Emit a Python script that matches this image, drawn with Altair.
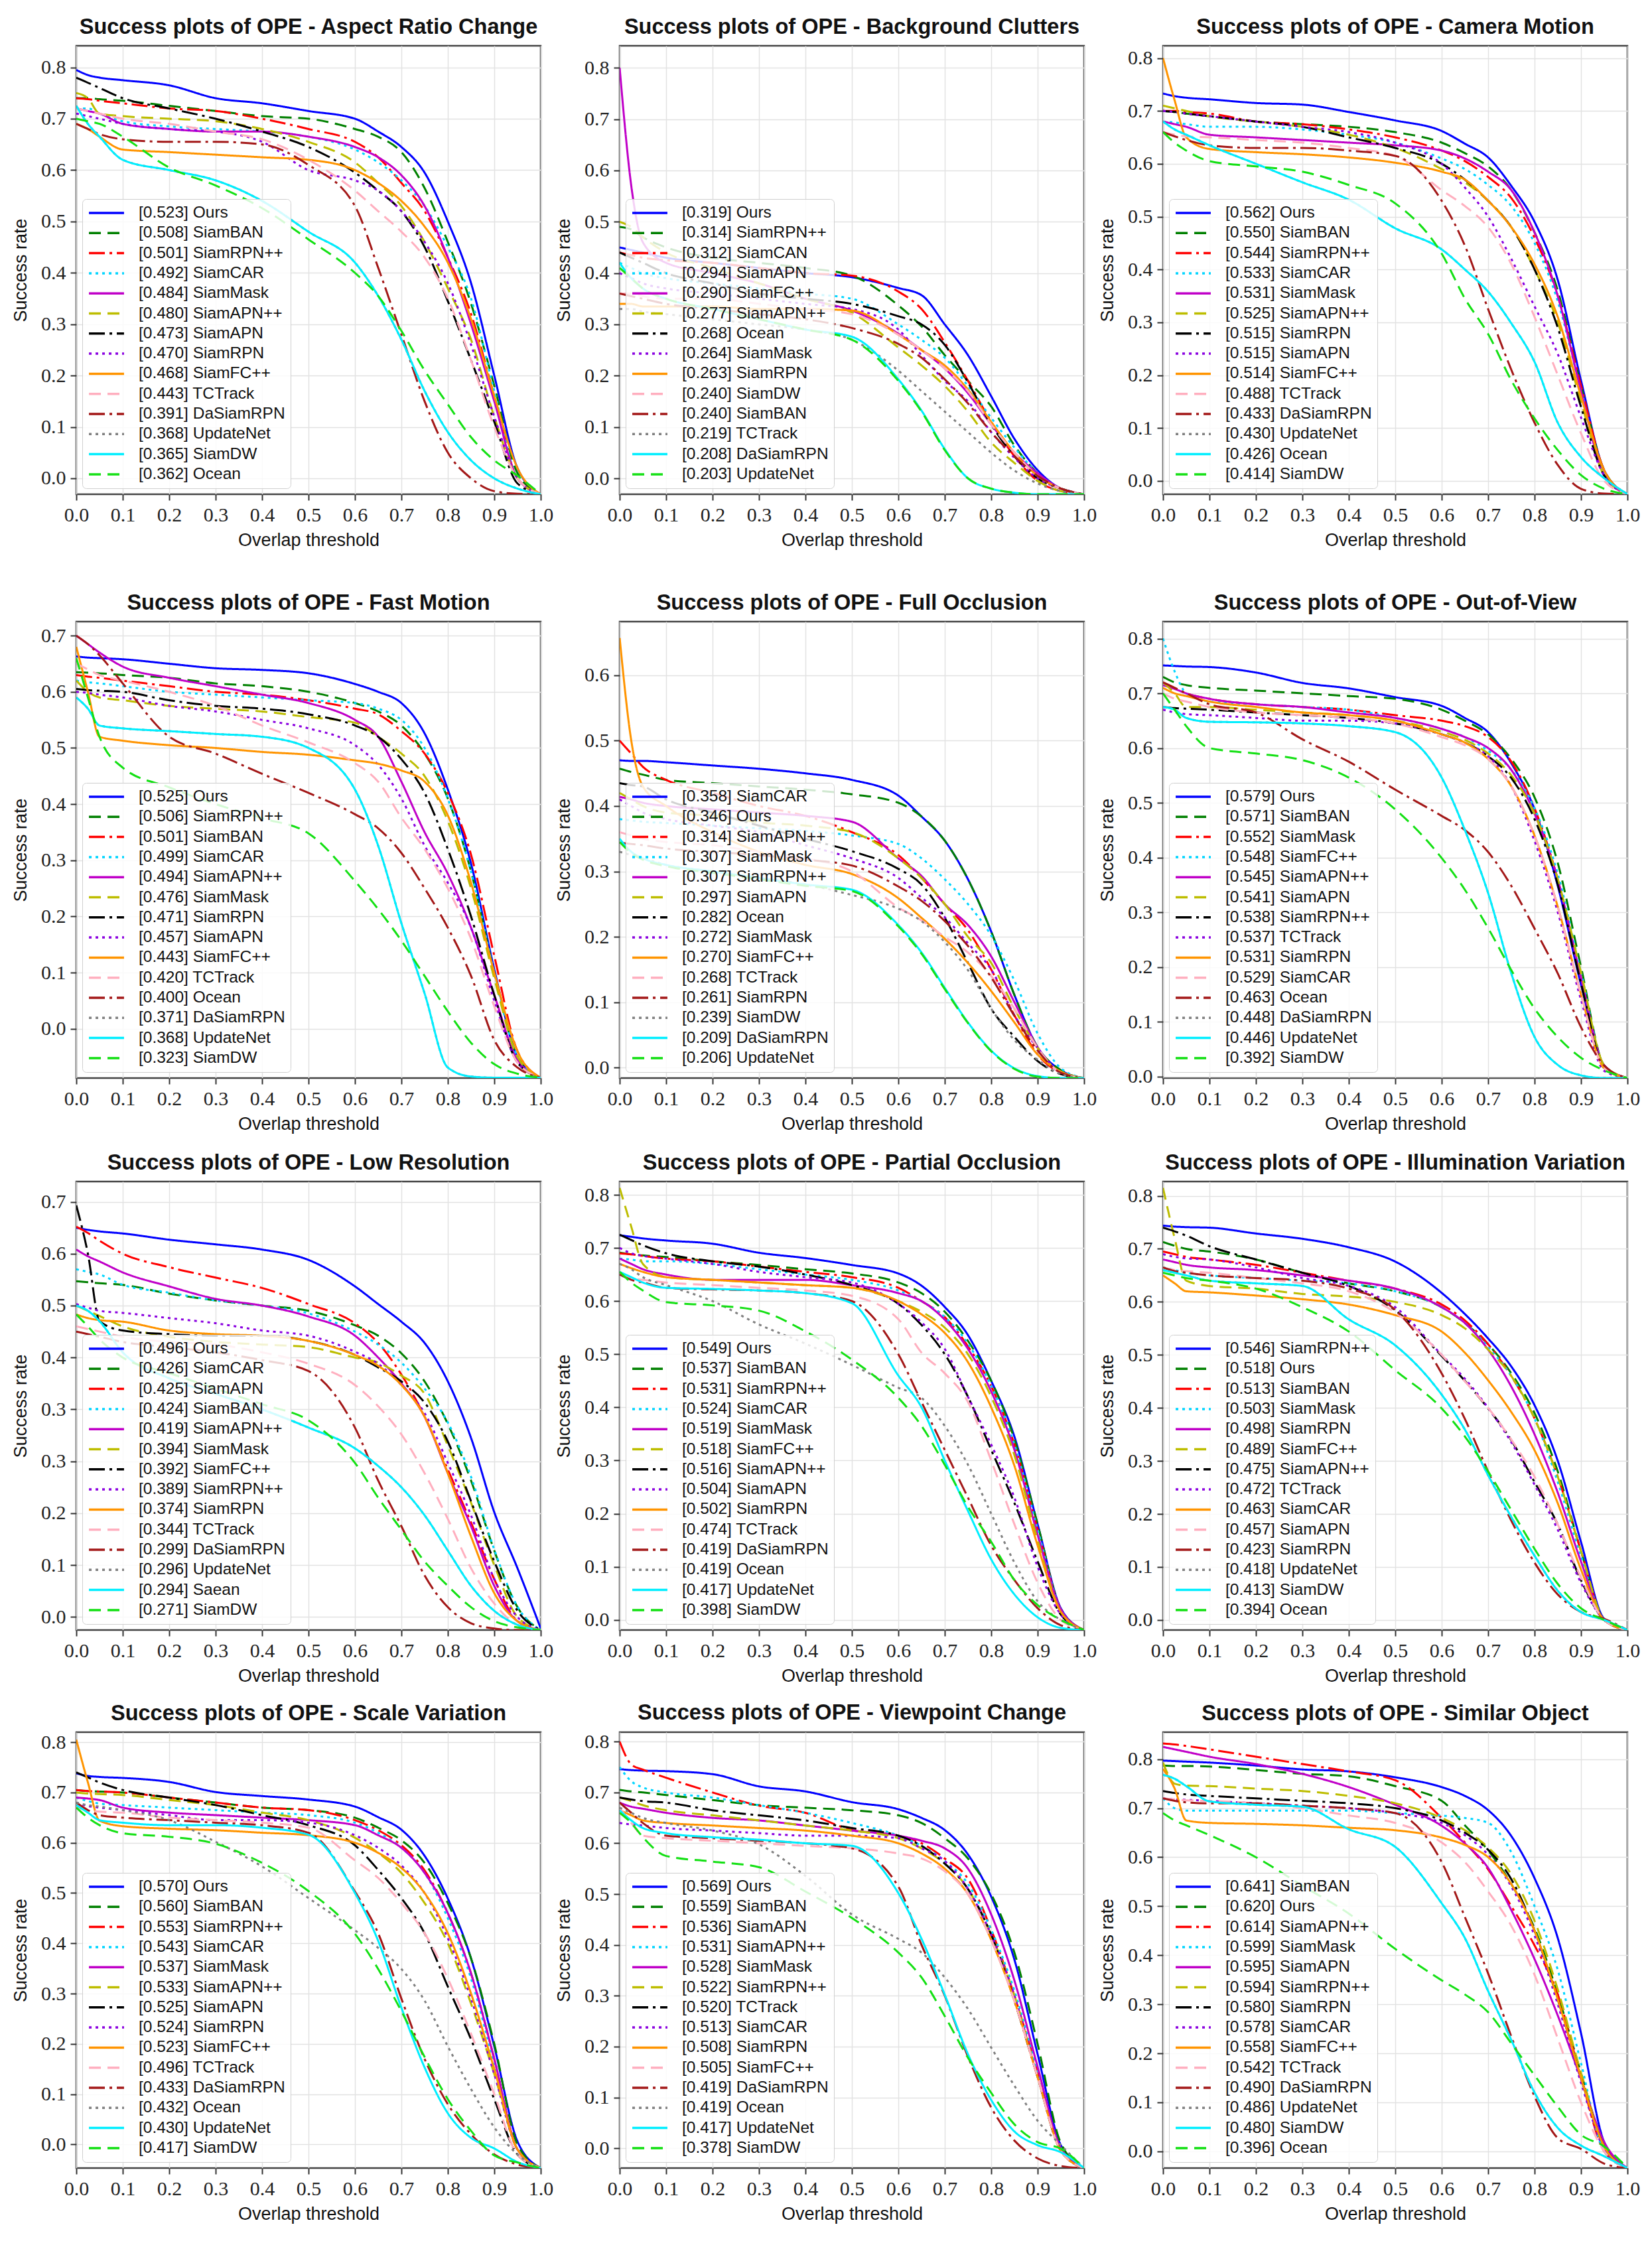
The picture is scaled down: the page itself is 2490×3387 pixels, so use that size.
import altair as alt
import pandas as pd

T = [0, .025, .05, .1, .2, .3, .4, .5, .6, .65, .7, .75, .8, .85, .9, .95, 1.0]

# ---------------- Aspect Ratio Change ----------------
ARC_NAMES = ["Ours", "SiamBAN", "SiamRPN++", "SiamCAR", "SiamMask", "SiamAPN++", "SiamAPN", "SiamRPN",
             "SiamFC++", "TCTrack", "DaSiamRPN", "UpdateNet", "SiamDW", "Ocean"]
ARC_AUC = [.523, .508, .501, .492, .484, .480, .473, .470, .468, .443, .391, .368, .365, .362]
ARC_Y = [
    [.795, .785, .780, .775, .765, .740, .730, .715, .700, .675, .645, .595, .500, .380, .200, .020, -.031],
    [.740, .740, .738, .735, .725, .715, .705, .700, .680, .665, .635, .565, .460, .340, .180, .010, -.031],
    [.740, .738, .735, .730, .720, .715, .700, .680, .655, .625, .575, .520, .430, .320, .160, .000, -.031],
    [.720, .720, .710, .695, .685, .680, .675, .665, .640, .615, .580, .530, .450, .350, .170, .000, -.031],
    [.720, .715, .710, .690, .680, .675, .675, .665, .645, .625, .590, .530, .430, .300, .150, .000, -.031],
    [.750, .740, .710, .705, .700, .695, .680, .655, .615, .575, .530, .460, .370, .270, .120, .000, -.031],
    [.780, .770, .760, .740, .720, .700, .675, .645, .595, .560, .520, .450, .345, .230, .110, -.010, -.031],
    [.710, .705, .700, .690, .680, .675, .655, .600, .580, .560, .520, .460, .380, .260, .120, .000, -.031],
    [.690, .680, .665, .640, .635, .630, .625, .620, .600, .575, .540, .490, .420, .310, .160, .020, -.031],
    [.720, .715, .710, .700, .690, .675, .660, .620, .560, .520, .480, .430, .350, .230, .100, .000, -.031],
    [.690, .680, .670, .660, .655, .655, .650, .610, .530, .410, .280, .150, .050, .000, -.025, -.030, -.031],
    [.725, .690, .665, .620, .600, .580, .540, .480, .420, .355, .270, .170, .090, .035, .000, -.020, -.031],
    [.725, .690, .665, .620, .600, .580, .540, .480, .420, .355, .270, .170, .090, .035, .000, -.020, -.031],
    [.700, .695, .690, .665, .605, .570, .526, .465, .400, .355, .287, .210, .144, .080, .035, .005, -.031],
]

# ---------------- Background Clutters ----------------
BC_NAMES = ["Ours", "SiamRPN++", "SiamCAN", "SiamAPN", "SiamFC++", "SiamAPN++", "Ocean", "SiamMask",
            "SiamRPN", "SiamDW", "SiamBAN", "TCTrack", "DaSiamRPN", "UpdateNet"]
BC_AUC = [.319, .314, .312, .294, .290, .277, .268, .264, .263, .240, .240, .219, .208, .203]
BC_Y = [
    [.450, .445, .440, .430, .420, .410, .400, .392, .371, .357, .300, .240, .160, .077, .016, -.020, -.031],
    [.490, .485, .470, .450, .430, .420, .410, .395, .337, .296, .240, .190, .140, .064, .010, -.020, -.031],
    [.440, .435, .430, .425, .420, .410, .400, .395, .364, .330, .265, .190, .110, .043, -.005, -.025, -.031],
    [.420, .410, .400, .390, .380, .370, .360, .350, .300, .270, .235, .180, .118, .060, .010, -.020, -.031],
    [.800, .570, .460, .420, .400, .380, .350, .327, .282, .250, .214, .166, .105, .050, .010, -.020, -.031],
    [.500, .490, .470, .440, .410, .380, .350, .323, .255, .220, .180, .130, .070, .030, -.005, -.025, -.031],
    [.440, .430, .420, .400, .380, .360, .350, .340, .316, .300, .260, .187, .105, .043, .000, -.020, -.031],
    [.400, .390, .380, .370, .360, .350, .340, .330, .290, .240, .190, .150, .090, .040, .000, -.020, -.031],
    [.340, .340, .335, .335, .335, .330, .330, .327, .280, .250, .220, .173, .110, .050, .005, -.020, -.031],
    [.360, .360, .355, .350, .350, .340, .330, .320, .280, .250, .214, .170, .105, .050, .005, -.020, -.031],
    [.360, .355, .350, .340, .330, .320, .310, .293, .262, .235, .193, .146, .090, .043, .005, -.020, -.031],
    [.330, .330, .325, .320, .310, .300, .290, .270, .210, .170, .130, .090, .050, .015, -.010, -.025, -.031],
    [.420, .390, .370, .350, .330, .310, .290, .276, .193, .132, .057, .000, -.020, -.028, -.031, -.031, -.031],
    [.410, .390, .370, .350, .330, .310, .290, .270, .190, .130, .055, .000, -.020, -.028, -.031, -.031, -.031],
]

# ---------------- Camera Motion ----------------
CM_NAMES = ["Ours", "SiamBAN", "SiamRPN++", "SiamCAR", "SiamMask", "SiamAPN++", "SiamRPN", "SiamAPN",
            "SiamFC++", "TCTrack", "DaSiamRPN", "UpdateNet", "Ocean", "SiamDW"]
CM_AUC = [.562, .550, .544, .533, .531, .525, .515, .515, .514, .488, .433, .430, .426, .414]
CM_Y = [
    [.733, .728, .725, .722, .715, .712, .698, .682, .662, .638, .612, .558, .490, .380, .190, .020, -.025],
    [.700, .698, .695, .690, .680, .675, .670, .660, .640, .620, .595, .550, .470, .360, .180, .020, -.025],
    [.700, .700, .698, .695, .680, .675, .665, .650, .625, .605, .575, .535, .460, .350, .180, .020, -.025],
    [.680, .678, .675, .670, .670, .665, .655, .640, .610, .590, .560, .520, .450, .340, .170, .010, -.025],
    [.680, .675, .670, .655, .650, .645, .640, .635, .625, .610, .585, .550, .470, .350, .170, .010, -.025],
    [.710, .705, .700, .690, .680, .670, .655, .630, .590, .565, .530, .480, .400, .300, .150, .010, -.025],
    [.700, .698, .695, .690, .680, .670, .650, .630, .600, .570, .530, .480, .400, .290, .140, .010, -.025],
    [.700, .698, .695, .690, .680, .670, .660, .640, .600, .555, .500, .420, .330, .240, .120, .010, -.025],
    [.800, .720, .650, .628, .622, .618, .612, .602, .585, .570, .530, .480, .410, .310, .160, .020, -.025],
    [.660, .655, .652, .650, .645, .640, .630, .615, .550, .520, .480, .410, .310, .200, .090, .000, -.025],
    [.660, .652, .645, .635, .630, .630, .625, .615, .530, .445, .325, .210, .110, .030, -.015, -.024, -.025],
    [.680, .665, .655, .635, .600, .565, .532, .478, .438, .400, .358, .298, .225, .110, .045, .005, -.025],
    [.680, .665, .655, .635, .600, .565, .532, .478, .438, .400, .358, .298, .225, .110, .045, .005, -.025],
    [.660, .640, .625, .605, .595, .585, .560, .525, .430, .345, .278, .190, .118, .058, .011, -.015, -.025],
]

# ---------------- Fast Motion ----------------
FM_NAMES = ["Ours", "SiamRPN++", "SiamBAN", "SiamCAR", "SiamAPN++", "SiamMask", "SiamRPN", "SiamAPN",
            "SiamFC++", "TCTrack", "Ocean", "DaSiamRPN", "UpdateNet", "SiamDW"]
FM_AUC = [.525, .506, .501, .499, .494, .476, .471, .457, .443, .420, .400, .371, .368, .323]
FM_Y = [
    [.663, .661, .660, .658, .650, .642, .639, .633, .614, .600, .580, .526, .426, .294, .106, -.050, -.087],
    [.635, .634, .633, .630, .625, .615, .610, .600, .580, .565, .540, .490, .410, .280, .100, -.050, -.087],
    [.630, .627, .625, .620, .610, .600, .595, .585, .570, .560, .530, .490, .420, .310, .130, -.040, -.087],
    [.620, .617, .615, .610, .600, .595, .590, .585, .580, .570, .550, .500, .410, .280, .100, -.050, -.087],
    [.700, .685, .670, .645, .625, .610, .595, .580, .550, .520, .440, .350, .276, .180, .060, -.056, -.087],
    [.620, .600, .590, .585, .575, .570, .565, .555, .545, .520, .490, .450, .370, .250, .090, -.050, -.087],
    [.605, .603, .602, .600, .585, .575, .570, .560, .540, .520, .480, .420, .320, .200, .060, -.060, -.087],
    [.600, .598, .595, .590, .575, .565, .550, .535, .505, .470, .410, .326, .260, .180, .050, -.060, -.087],
    [.680, .600, .520, .513, .505, .500, .493, .488, .478, .472, .460, .440, .380, .260, .100, -.040, -.087],
    [.650, .640, .630, .620, .600, .575, .540, .510, .473, .440, .376, .320, .250, .160, .040, -.060, -.087],
    [.700, .685, .665, .615, .520, .490, .454, .420, .382, .357, .313, .250, .180, .094, -.020, -.069, -.087],
    [.590, .570, .540, .535, .530, .525, .520, .500, .426, .326, .188, .063, -.069, -.085, -.087, -.087, -.087],
    [.590, .570, .540, .535, .530, .525, .520, .500, .426, .326, .188, .063, -.069, -.085, -.087, -.087, -.087],
    [.660, .590, .520, .465, .430, .400, .375, .348, .263, .213, .157, .094, .031, -.025, -.063, -.080, -.087],
]

# ---------------- Full Occlusion ----------------
FO_NAMES = ["SiamCAR", "Ours", "SiamAPN++", "SiamMask", "SiamRPN++", "SiamAPN", "Ocean", "SiamMask",
            "SiamFC++", "TCTrack", "SiamRPN", "SiamDW", "DaSiamRPN", "UpdateNet"]
FO_AUC = [.358, .346, .314, .307, .307, .297, .282, .272, .270, .268, .261, .239, .209, .206]
FO_Y = [
    [.470, .469, .469, .467, .462, .457, .450, .440, .416, .384, .347, .288, .208, .111, .031, -.004, -.016],
    [.457, .452, .448, .440, .435, .430, .425, .418, .405, .384, .347, .288, .208, .111, .031, -.004, -.016],
    [.500, .480, .460, .440, .420, .400, .385, .360, .325, .290, .250, .210, .150, .080, .020, -.008, -.016],
    [.380, .378, .376, .374, .370, .366, .362, .355, .342, .320, .288, .250, .202, .133, .052, -.001, -.016],
    [.414, .410, .405, .400, .395, .390, .385, .376, .320, .293, .250, .218, .170, .100, .031, -.008, -.016],
    [.420, .410, .400, .390, .385, .375, .370, .360, .320, .290, .250, .200, .160, .090, .030, -.008, -.016],
    [.435, .432, .430, .410, .390, .370, .350, .331, .304, .280, .229, .160, .090, .047, .010, -.010, -.016],
    [.410, .400, .390, .380, .370, .360, .340, .320, .290, .260, .230, .190, .150, .080, .030, -.008, -.016],
    [.657, .500, .430, .400, .360, .330, .310, .296, .259, .229, .197, .160, .117, .069, .020, -.006, -.016],
    [.360, .355, .350, .345, .340, .330, .320, .300, .245, .225, .200, .176, .140, .090, .030, -.008, -.016],
    [.344, .342, .340, .335, .330, .325, .318, .309, .277, .255, .224, .186, .138, .079, .026, -.008, -.016],
    [.330, .325, .320, .310, .300, .290, .280, .264, .243, .224, .192, .149, .090, .042, .012, -.010, -.016],
    [.350, .330, .320, .310, .300, .290, .280, .272, .218, .176, .122, .069, .026, -.001, -.013, -.016, -.016],
    [.345, .328, .318, .308, .298, .288, .278, .270, .216, .174, .120, .068, .025, -.002, -.014, -.016, -.016],
]

# ---------------- Out-of-View ----------------
OV_NAMES = ["Ours", "SiamBAN", "SiamMask", "SiamFC++", "SiamAPN++", "SiamAPN", "SiamRPN++", "TCTrack",
            "SiamRPN", "SiamCAR", "Ocean", "DaSiamRPN", "UpdateNet", "SiamDW"]
OV_AUC = [.579, .571, .552, .548, .545, .541, .538, .537, .531, .529, .463, .448, .446, .392]
OV_Y = [
    [.751, .750, .749, .748, .738, .719, .709, .693, .677, .655, .629, .572, .488, .348, .168, .020, -.003],
    [.730, .720, .715, .710, .705, .700, .695, .690, .670, .650, .625, .580, .510, .390, .200, .020, -.003],
    [.720, .710, .700, .690, .680, .675, .670, .660, .650, .640, .620, .575, .490, .360, .180, .020, -.003],
    [.800, .740, .700, .685, .680, .675, .670, .655, .635, .620, .595, .560, .490, .370, .190, .020, -.003],
    [.715, .708, .700, .690, .680, .675, .665, .655, .635, .620, .600, .560, .480, .360, .180, .020, -.003],
    [.720, .700, .675, .675, .670, .665, .660, .650, .630, .615, .590, .550, .480, .360, .190, .020, -.003],
    [.675, .673, .672, .670, .665, .660, .655, .645, .625, .610, .585, .545, .470, .350, .170, .015, -.003],
    [.670, .665, .662, .660, .655, .650, .650, .645, .625, .610, .585, .530, .430, .300, .140, .010, -.003],
    [.710, .700, .695, .685, .675, .665, .660, .650, .625, .610, .580, .530, .440, .310, .150, .015, -.003],
    [.700, .690, .685, .675, .665, .660, .655, .645, .620, .605, .580, .530, .440, .310, .150, .015, -.003],
    [.720, .710, .700, .680, .665, .616, .575, .524, .476, .450, .410, .348, .270, .188, .090, .020, -.003],
    [.675, .670, .655, .648, .647, .645, .640, .629, .546, .450, .335, .188, .072, .021, .002, -.003, -.003],
    [.675, .670, .655, .648, .647, .645, .640, .629, .546, .450, .335, .188, .072, .021, .002, -.003, -.003],
    [.700, .670, .640, .600, .590, .578, .546, .488, .399, .341, .271, .194, .124, .072, .034, .011, -.003],
]

# ---------------- Low Resolution (tick labels as printed) ----------------
LR_NAMES = ["Ours", "SiamCAR", "SiamAPN", "SiamBAN", "SiamAPN++", "SiamMask", "SiamFC++", "SiamRPN++",
            "SiamRPN", "TCTrack", "DaSiamRPN", "UpdateNet", "Saean", "SiamDW"]
LR_AUC = [.496, .426, .425, .424, .419, .394, .392, .389, .374, .344, .299, .296, .294, .271]
LR_Y = [
    [.750, .746, .743, .739, .727, .718, .708, .688, .637, .603, .569, .528, .454, .345, .202, .094, -.022],
    [.647, .645, .643, .640, .623, .610, .600, .590, .562, .542, .508, .454, .372, .263, .128, .019, -.025],
    [.752, .740, .725, .700, .674, .654, .634, .603, .566, .528, .467, .386, .284, .182, .073, -.008, -.025],
    [.670, .665, .660, .640, .625, .610, .600, .585, .550, .525, .490, .440, .375, .270, .130, .020, -.025],
    [.708, .695, .685, .664, .637, .613, .600, .579, .542, .500, .450, .386, .277, .175, .060, -.008, -.025],
    [.600, .590, .580, .560, .540, .530, .525, .520, .500, .490, .465, .430, .330, .220, .100, .000, -.025],
    [.793, .700, .570, .552, .545, .542, .542, .532, .505, .481, .454, .413, .338, .223, .107, .012, -.025],
    [.603, .596, .590, .586, .576, .566, .552, .542, .511, .488, .447, .393, .297, .196, .073, .000, -.025],
    [.583, .576, .572, .569, .552, .545, .542, .532, .505, .484, .447, .386, .277, .155, .046, -.008, -.025],
    [.560, .555, .550, .540, .530, .525, .510, .488, .447, .406, .352, .277, .189, .094, .026, -.015, -.025],
    [.550, .545, .540, .530, .520, .510, .495, .474, .365, .263, .175, .080, .019, -.012, -.022, -.025, -.025],
    [.600, .590, .570, .510, .460, .430, .400, .365, .325, .291, .250, .196, .128, .060, .012, -.015, -.025],
    [.600, .590, .570, .510, .460, .430, .400, .365, .325, .291, .250, .196, .128, .060, .012, -.015, -.025],
    [.583, .560, .535, .500, .470, .440, .410, .379, .297, .230, .168, .107, .060, .019, -.008, -.020, -.025],
]
LR_TICK_LABELS = ["0.0", "0.1", "0.2", "0.3", "0.3", "0.4", "0.5", "0.6", "0.7"]

# ---------------- Partial Occlusion ----------------
PO_NAMES = ["Ours", "SiamBAN", "SiamRPN++", "SiamCAR", "SiamMask", "SiamFC++", "SiamAPN++", "SiamAPN",
            "SiamRPN", "TCTrack", "DaSiamRPN", "Ocean", "UpdateNet", "SiamDW"]
PO_AUC = [.549, .537, .531, .524, .519, .518, .516, .504, .502, .474, .419, .419, .417, .398]
PO_Y = [
    [.724, .721, .718, .714, .708, .691, .681, .668, .652, .629, .589, .536, .450, .345, .180, .022, -.019],
    [.691, .688, .686, .683, .675, .668, .660, .652, .635, .615, .580, .525, .450, .340, .180, .020, -.019],
    [.690, .688, .685, .680, .675, .665, .655, .645, .625, .600, .570, .515, .440, .330, .170, .020, -.019],
    [.680, .678, .675, .675, .670, .660, .650, .640, .620, .600, .570, .520, .440, .330, .170, .020, -.019],
    [.680, .670, .660, .650, .640, .640, .640, .630, .615, .600, .565, .510, .430, .320, .160, .020, -.019],
    [.813, .740, .670, .645, .640, .635, .630, .625, .600, .580, .550, .500, .420, .310, .150, .015, -.019],
    [.725, .715, .705, .690, .675, .665, .650, .630, .595, .555, .500, .420, .320, .220, .110, .010, -.019],
    [.700, .690, .685, .680, .670, .655, .645, .635, .595, .560, .510, .420, .330, .230, .100, .010, -.019],
    [.670, .662, .655, .645, .640, .635, .630, .625, .600, .575, .540, .485, .400, .290, .140, .015, -.019],
    [.650, .642, .640, .635, .630, .625, .620, .610, .566, .503, .464, .410, .300, .180, .070, .000, -.019],
    [.650, .640, .635, .625, .622, .620, .615, .600, .500, .410, .320, .230, .140, .075, .022, -.010, -.019],
    [.670, .660, .645, .630, .600, .556, .520, .480, .437, .418, .365, .292, .200, .108, .035, .000, -.019],
    [.655, .645, .635, .625, .623, .620, .615, .596, .460, .400, .300, .205, .114, .048, .005, -.015, -.019],
    [.655, .635, .620, .598, .592, .582, .543, .490, .418, .365, .292, .213, .147, .075, .028, .000, -.019],
]

# ---------------- Illumination Variation ----------------
IV_NAMES = ["SiamRPN++", "Ours", "SiamBAN", "SiamMask", "SiamRPN", "SiamFC++", "SiamAPN++", "TCTrack",
            "SiamCAR", "SiamAPN", "SiamRPN", "UpdateNet", "SiamDW", "Ocean"]
IV_AUC = [.546, .518, .513, .503, .498, .489, .475, .472, .463, .457, .423, .418, .413, .394]
IV_Y = [
    [.744, .742, .741, .740, .729, .719, .703, .676, .617, .577, .531, .478, .405, .300, .147, .002, -.019],
    [.713, .706, .700, .695, .680, .655, .635, .620, .590, .560, .520, .465, .390, .280, .130, .000, -.019],
    [.695, .690, .685, .680, .670, .655, .640, .625, .595, .565, .520, .460, .380, .270, .130, .000, -.019],
    [.665, .660, .655, .650, .645, .640, .635, .620, .590, .560, .515, .460, .380, .260, .120, .000, -.019],
    [.680, .675, .670, .665, .660, .650, .640, .625, .590, .560, .510, .440, .350, .240, .110, .000, -.019],
    [.815, .720, .640, .630, .625, .615, .610, .600, .575, .550, .510, .460, .380, .270, .130, .000, -.019],
    [.740, .733, .725, .705, .680, .655, .630, .584, .498, .451, .399, .339, .260, .180, .075, .000, -.019],
    [.690, .685, .682, .680, .665, .645, .630, .590, .500, .455, .400, .335, .255, .170, .070, .000, -.019],
    [.650, .635, .620, .618, .612, .605, .595, .575, .544, .504, .452, .392, .320, .220, .095, .000, -.019],
    [.665, .660, .658, .655, .645, .635, .620, .580, .500, .450, .400, .340, .270, .180, .080, .000, -.019],
    [.665, .658, .655, .650, .645, .640, .625, .585, .465, .379, .280, .187, .108, .048, .015, .002, -.019],
    [.660, .655, .650, .640, .635, .630, .567, .518, .425, .359, .273, .194, .121, .055, .015, .000, -.019],
    [.660, .655, .650, .640, .635, .630, .567, .518, .425, .359, .273, .194, .121, .055, .015, .000, -.019],
    [.655, .650, .645, .640, .625, .590, .544, .471, .399, .346, .280, .207, .134, .068, .022, .000, -.019],
]

# ---------------- Scale Variation ----------------
SV_NAMES = ["Ours", "SiamBAN", "SiamRPN++", "SiamCAR", "SiamMask", "SiamAPN++", "SiamAPN", "SiamRPN",
            "SiamFC++", "TCTrack", "DaSiamRPN", "Ocean", "UpdateNet", "SiamDW"]
SV_AUC = [.570, .560, .553, .543, .537, .533, .525, .524, .523, .496, .433, .432, .430, .417]
SV_Y = [
    [.738, .733, .731, .729, .721, .701, .693, .686, .672, .651, .626, .574, .489, .370, .195, .006, -.047],
    [.705, .703, .702, .700, .690, .680, .670, .665, .650, .630, .605, .560, .480, .370, .200, .000, -.047],
    [.705, .703, .702, .700, .690, .680, .670, .665, .645, .625, .595, .545, .460, .340, .170, -.010, -.047],
    [.690, .683, .678, .675, .670, .665, .660, .655, .640, .620, .590, .540, .450, .330, .160, -.010, -.047],
    [.690, .688, .685, .670, .660, .655, .650, .645, .635, .615, .590, .540, .460, .340, .170, -.010, -.047],
    [.700, .698, .697, .695, .685, .675, .660, .645, .610, .580, .540, .480, .400, .280, .140, -.010, -.047],
    [.740, .730, .720, .705, .690, .675, .655, .635, .595, .546, .490, .420, .314, .209, .090, -.020, -.047],
    [.680, .673, .670, .665, .655, .645, .645, .640, .615, .590, .555, .500, .410, .290, .140, -.010, -.047],
    [.805, .720, .644, .633, .628, .625, .620, .615, .600, .580, .550, .500, .420, .300, .150, -.010, -.047],
    [.670, .665, .662, .660, .650, .645, .640, .630, .565, .530, .480, .420, .330, .220, .100, -.020, -.047],
    [.680, .665, .655, .650, .645, .640, .635, .620, .503, .420, .290, .170, .080, .020, -.020, -.040, -.047],
    [.680, .675, .672, .665, .645, .602, .553, .490, .426, .391, .349, .286, .195, .110, .034, -.020, -.047],
    [.675, .660, .645, .640, .635, .635, .630, .616, .500, .405, .272, .153, .062, .013, -.008, -.035, -.047],
    [.670, .650, .635, .619, .612, .598, .560, .504, .419, .349, .265, .174, .090, .027, -.022, -.036, -.047],
]

# ---------------- Viewpoint Change ----------------
VC_NAMES = ["Ours", "SiamBAN", "SiamAPN", "SiamAPN++", "SiamMask", "SiamRPN++", "TCTrack", "SiamCAR",
            "SiamRPN", "SiamFC++", "DaSiamRPN", "Ocean", "UpdateNet", "SiamDW"]
VC_AUC = [.569, .559, .536, .531, .528, .522, .520, .513, .508, .505, .419, .419, .417, .378]
VC_Y = [
    [.746, .744, .743, .742, .736, .712, .702, .681, .667, .650, .626, .578, .495, .371, .185, .006, -.039],
    [.705, .702, .700, .695, .685, .675, .670, .665, .655, .640, .610, .570, .500, .385, .205, .010, -.039],
    [.800, .755, .745, .729, .700, .674, .660, .626, .615, .600, .570, .530, .430, .300, .150, .000, -.039],
    [.750, .722, .710, .700, .690, .675, .660, .640, .615, .595, .565, .520, .430, .310, .150, .000, -.039],
    [.680, .672, .668, .660, .650, .645, .635, .625, .615, .605, .590, .550, .460, .330, .160, .000, -.039],
    [.690, .683, .675, .665, .655, .645, .635, .625, .610, .590, .560, .510, .420, .300, .140, -.005, -.039],
    [.690, .686, .683, .680, .665, .655, .645, .630, .615, .595, .560, .510, .420, .290, .140, -.005, -.039],
    [.640, .637, .635, .630, .625, .620, .615, .615, .610, .590, .565, .510, .420, .300, .140, -.005, -.039],
    [.665, .655, .645, .640, .635, .630, .625, .615, .600, .580, .550, .500, .410, .290, .140, -.005, -.039],
    [.670, .640, .615, .610, .605, .600, .595, .590, .580, .570, .545, .500, .410, .290, .140, -.005, -.039],
    [.680, .660, .640, .615, .610, .605, .600, .590, .515, .400, .300, .180, .080, .015, -.020, -.035, -.039],
    [.670, .660, .650, .640, .625, .598, .536, .460, .412, .385, .336, .274, .198, .123, .054, .006, -.039],
    [.665, .645, .630, .620, .612, .607, .600, .595, .502, .412, .302, .185, .095, .033, .006, -.008, -.039],
    [.660, .640, .612, .575, .564, .553, .505, .453, .385, .336, .260, .178, .109, .047, .012, -.001, -.039],
]

# ---------------- Similar Object ----------------
SO_NAMES = ["SiamBAN", "Ours", "SiamAPN++", "SiamMask", "SiamAPN", "SiamRPN++", "SiamRPN", "SiamCAR",
            "SiamFC++", "TCTrack", "DaSiamRPN", "UpdateNet", "SiamDW", "Ocean"]
SO_AUC = [.641, .620, .614, .599, .595, .594, .580, .578, .558, .542, .490, .486, .480, .396]
SO_Y = [
    [.797, .796, .795, .793, .787, .779, .775, .763, .743, .725, .696, .643, .557, .435, .241, .019, -.034],
    [.787, .786, .786, .785, .778, .770, .765, .745, .715, .665, .614, .545, .455, .320, .160, .010, -.034],
    [.832, .830, .827, .820, .805, .790, .775, .757, .680, .630, .575, .500, .420, .320, .150, .000, -.034],
    [.720, .700, .695, .695, .695, .695, .695, .690, .685, .680, .670, .610, .500, .370, .180, .000, -.034],
    [.825, .820, .815, .805, .790, .770, .743, .707, .664, .628, .578, .492, .392, .277, .148, .019, -.034],
    [.793, .750, .746, .745, .740, .735, .725, .710, .680, .655, .620, .565, .470, .330, .160, .010, -.034],
    [.735, .731, .728, .725, .720, .715, .710, .700, .675, .650, .615, .555, .450, .310, .150, .010, -.034],
    [.720, .718, .717, .715, .710, .705, .700, .690, .670, .645, .605, .540, .440, .300, .140, .005, -.034],
    [.780, .740, .675, .670, .668, .665, .660, .655, .640, .625, .600, .545, .450, .310, .150, .010, -.034],
    [.720, .718, .716, .715, .710, .700, .685, .670, .630, .590, .530, .460, .360, .230, .100, .000, -.034],
    [.720, .715, .712, .710, .710, .705, .700, .690, .590, .478, .363, .234, .112, .027, .005, -.025, -.034],
    [.768, .760, .745, .714, .707, .703, .657, .621, .506, .435, .327, .227, .120, .048, .012, -.010, -.034],
    [.768, .760, .745, .714, .707, .703, .657, .621, .506, .435, .327, .227, .120, .048, .012, -.010, -.034],
    [.690, .675, .665, .645, .600, .542, .485, .413, .349, .320, .284, .220, .155, .091, .034, .010, -.034],
]

TITLES = ["Aspect Ratio Change", "Background Clutters", "Camera Motion",
          "Fast Motion", "Full Occlusion", "Out-of-View",
          "Low Resolution", "Partial Occlusion", "Illumination Variation",
          "Scale Variation", "Viewpoint Change", "Similar Object"]
Y_DOMAINS = [[-0.031, 0.842], [-0.031, 0.843], [-0.0253, 0.8233],
             [-0.0877, 0.725], [-0.016, 0.682], [-0.003, 0.831],
             [-0.025, 0.839], [-0.019, 0.825], [-0.019, 0.827],
             [-0.047, 0.820], [-0.039, 0.8186], [-0.034, 0.855]]
Y_TICK_COUNT = [9, 9, 9, 8, 7, 9, 9, 9, 9, 9, 9, 9]
ROW_HEIGHTS = [676, 688, 676, 657]

COLORS = ["#0000ff", "#008000", "#ff0000", "#00d5ff", "#c000c8", "#bdbd00", "#000000",
          "#8a00e0", "#ff9400", "#ffafbf", "#a31818", "#808080", "#00eeff", "#14e014"]
SOLID, DASH, DASHDOT, DOT = [1, 0], [18, 10], [24, 7, 4, 7], [4, 6]
DASHES = [SOLID, DASH, DASHDOT, DOT] * 3 + [SOLID, DASH]

PANEL_DATA = [(ARC_NAMES, ARC_AUC, ARC_Y), (BC_NAMES, BC_AUC, BC_Y), (CM_NAMES, CM_AUC, CM_Y),
              (FM_NAMES, FM_AUC, FM_Y), (FO_NAMES, FO_AUC, FO_Y), (OV_NAMES, OV_AUC, OV_Y),
              (LR_NAMES, LR_AUC, LR_Y), (PO_NAMES, PO_AUC, PO_Y), (IV_NAMES, IV_AUC, IV_Y),
              (SV_NAMES, SV_AUC, SV_Y), (VC_NAMES, VC_AUC, VC_Y), (SO_NAMES, SO_AUC, SO_Y)]

SERIF = "Liberation Serif"
SANS = "Liberation Sans"


def make_panel(i, height):
    names, auc, ys = PANEL_DATA[i]
    labels = [f"[{a:.3f}] {n}" for n, a in zip(names, auc)]
    rows = []
    # drawn in ranking order: later (lower ranked) curves lie on top
    for r in range(len(names)):
        for t, v in zip(T, ys[r]):
            rows.append({"t": t, "v": v, "label": labels[r]})
    df = pd.DataFrame(rows)

    yticks = [round(k * 0.1, 1) for k in range(Y_TICK_COUNT[i])]
    if i == 6:
        arr = ",".join(f"'{s}'" for s in LR_TICK_LABELS)
        yaxis = alt.Axis(values=yticks, labelExpr=f"[{arr}][round(datum.value*10)]")
    else:
        yaxis = alt.Axis(values=yticks, format=".1f")
    xaxis = alt.Axis(values=[round(k * 0.1, 1) for k in range(11)], format=".1f")

    legend = alt.Legend(
        title=None, orient="bottom-left", offset=9,
        labelFont=SANS, labelFontSize=24.5, labelColor="#111", labelLimit=600,
        symbolType="stroke", symbolSize=2800, symbolStrokeWidth=3.5,
        clipHeight=26, rowPadding=4.3, labelOffset=20, padding=8,
        fillColor="rgba(255,255,255,0.82)", strokeColor="#cfcfcf", cornerRadius=6,
    )

    chart = alt.Chart(df).mark_line(
        strokeWidth=3, interpolate="monotone", clip=True, strokeCap="butt"
    ).encode(
        x=alt.X("t:Q", title="Overlap threshold",
                scale=alt.Scale(domain=[0, 1], nice=False, zero=False), axis=xaxis),
        y=alt.Y("v:Q", title="Success rate",
                scale=alt.Scale(domain=Y_DOMAINS[i], nice=False, zero=False), axis=yaxis),
        color=alt.Color("label:N", scale=alt.Scale(domain=labels, range=COLORS), legend=legend),
        strokeDash=alt.StrokeDash("label:N", scale=alt.Scale(domain=labels, range=DASHES), legend=legend),
    ).properties(
        width=700, height=height,
        title=alt.TitleParams(f"Success plots of OPE - {TITLES[i]}", font=SANS, fontSize=32.5,
                              fontWeight="bold", color="#111", offset=12, anchor="middle"),
    )
    return chart


def indep(c):
    return c.resolve_scale(x="independent", y="independent", color="independent",
                           strokeDash="independent").resolve_legend(
        color="independent", strokeDash="independent")


rows = []
for r in range(4):
    rows.append(indep(alt.hconcat(*[make_panel(r * 3 + c, ROW_HEIGHTS[r]) for c in range(3)], spacing=0)))

chart = indep(alt.vconcat(rows[0], rows[1], spacing=62))
chart = indep(alt.vconcat(chart, rows[2], spacing=26))
chart = indep(alt.vconcat(chart, rows[3], spacing=23))

chart = chart.properties(
    padding={"left": 8, "top": 15, "right": 4, "bottom": 4},
    background="white",
).configure_view(
    stroke="#444444", strokeWidth=2.5
).configure_axis(
    labelFont=SERIF, labelFontSize=30, labelColor="#222",
    titleFont=SANS, titleFontSize=27, titleFontWeight="normal", titleColor="#111",
    tickSize=9, tickWidth=2, tickColor="#333", domain=False,
    grid=True, gridColor="#e2e2e2", gridWidth=1.5,
    labelPadding=7, labelFlush=False, labelOverlap=False,
).configure_axisX(titlePadding=10).configure_axisY(titlePadding=16)

chart.save("out.html", embed_options={"renderer": "svg", "actions": False})
